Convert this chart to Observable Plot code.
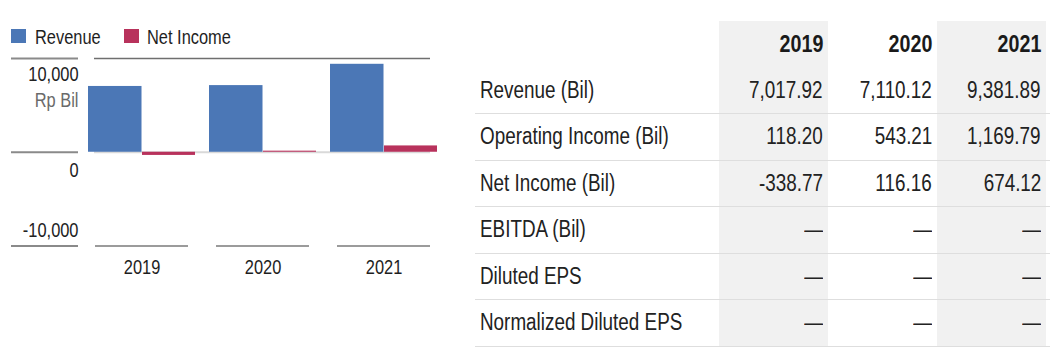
<!DOCTYPE html>
<html>
<head>
<meta charset="utf-8">
<script src="https://cdn.jsdelivr.net/npm/d3@7"></script>
<script src="https://cdn.jsdelivr.net/npm/@observablehq/plot@0.6"></script>
<style>
  html, body { margin: 0; padding: 0; background: #fff; }
  body { width: 1050px; height: 353px; position: relative; overflow: hidden;
         font-family: "Liberation Sans", Arial, sans-serif; color: #1e1e1e; }
  #chart { position: absolute; left: 0; top: 0; }
  #legend { position: absolute; left: 0; top: 27px; width: 300px; height: 20px; font-size: 20px; line-height: 20px; }
  #legend .sw { position: absolute; top: 2px; width: 15px; height: 14px; }
  #legend .txt { position: absolute; top: 0; white-space: nowrap; transform: scaleX(0.82); transform-origin: left center; }
  #table { position: absolute; left: 475px; top: 21px; width: 575px; }
  .row { display: grid; grid-template-columns: 244px 109px 109px 109px 4px; height: 46.5px; }
  .row.body { border-bottom: 1px solid #dedede; box-sizing: border-box; }
  .cell { display: flex; align-items: center; font-size: 23px; color: #222; white-space: nowrap; }
  .cell span { display: inline-block; transform: scaleX(0.82); }
  .cell.num { justify-content: flex-end; padding-right: 5px; }
  .cell.num span { transform-origin: right center; }
  .cell.lab { padding-left: 5px; }
  .cell.lab span { transform-origin: left center; }
  .cell.shade { background: #f1f1f1; }
  .row.head .cell { font-weight: bold; color: #1a1a1a; font-size: 24px; }
</style>
</head>
<body>
<div id="chart"></div>
<div id="legend"></div>
<div id="table"></div>
<script>
// ---- data ----
const years = ["2019", "2020", "2021"];
const seriesNames = ["Revenue", "Net Income"];
const seriesColors = ["#4b77b6", "#b8325c"];
const revenue = [7017.92, 7110.12, 9381.89];
const netIncome = [-338.77, 116.16, 674.12];
const yTicks = [10000, 0, -10000];
const yTickLabels = ["10,000", "0", "-10,000"];
const yUnit = "Rp Bil";

const tableRowLabels = ["Revenue (Bil)", "Operating Income (Bil)", "Net Income (Bil)", "EBITDA (Bil)", "Diluted EPS", "Normalized Diluted EPS"];
const tableRevenue = ["7,017.92", "7,110.12", "9,381.89"];
const tableOperatingIncome = ["118.20", "543.21", "1,169.79"];
const tableNetIncome = ["-338.77", "116.16", "674.12"];
const tableEbitda = ["—", "—", "—"];
const tableDilutedEps = ["—", "—", "—"];
const tableNormalizedEps = ["—", "—", "—"];

// ---- chart ----
const revRows = years.map((y, i) => ({year: y, value: revenue[i]}));
const niRows = years.map((y, i) => ({year: y, value: netIncome[i]}));
const bottomRows = years.map(y => ({year: y, v: yTicks[2]}));

const chart = Plot.plot({
  width: 450,
  height: 290,
  marginTop: 58,
  marginBottom: 44.5,
  marginLeft: 94,
  marginRight: 20,
  style: {fontFamily: '"Liberation Sans", Arial, sans-serif', fontSize: "20px", color: "#1e1e1e", background: "transparent", overflow: "visible"},
  x: {domain: years, paddingInner: 0.2346, paddingOuter: 0, axis: "bottom", tickSize: 0, tickPadding: 14, label: null},
  y: {domain: [yTicks[2], yTicks[0]], axis: null},
  marks: [
    Plot.ruleY([0], {stroke: "#d9d9d9", strokeWidth: 2}),
    Plot.barY(revRows, {x: "year", y: "value", fill: seriesColors[0], insetLeft: -7, insetRight: 46.5}),
    Plot.barY(niRows, {x: "year", y: "value", fill: seriesColors[1], insetLeft: 47, insetRight: -7}),
    Plot.ruleY([yTicks[0]], {stroke: "#6f6f6f", strokeWidth: 1.5}),
    Plot.tickY(bottomRows, {x: "year", y: "v", stroke: "#7a7a7a", strokeWidth: 1.5}),
    Plot.ruleY(yTicks, {stroke: "#8a8a8a", strokeWidth: 2, insetLeft: -83, insetRight: 352}),
    Plot.text([yTicks[0]], {y: d => d, text: () => yTickLabels[0], frameAnchor: "left", textAnchor: "end", dx: -16, dy: 16, fill: "#222"}),
    Plot.text([yTicks[0]], {y: d => d, text: () => yUnit, frameAnchor: "left", textAnchor: "end", dx: -16, dy: 42, fill: "#6a6a6a"}),
    Plot.text([yTicks[1]], {y: d => d, text: () => yTickLabels[1], frameAnchor: "left", textAnchor: "end", dx: -16, dy: 18, fill: "#222"}),
    Plot.text([yTicks[2]], {y: d => d, text: () => yTickLabels[2], frameAnchor: "left", textAnchor: "end", dx: -16, dy: -15, fill: "#222"})
  ]
});
document.getElementById("chart").appendChild(chart);
// condensed look: compress each label's glyphs horizontally (keeps Plot's own positioning)
chart.querySelectorAll("text").forEach(t => {
  const len = t.getComputedTextLength();
  if (len > 0) {
    t.setAttribute("textLength", (len * 0.82).toFixed(2));
    t.setAttribute("lengthAdjust", "spacingAndGlyphs");
  }
});

// ---- legend ----
const legend = document.getElementById("legend");
const legendSwatchX = [11, 124];
const legendTextX = [35, 147];
seriesNames.forEach((name, i) => {
  const sw = document.createElement("span");
  sw.className = "sw";
  sw.style.left = legendSwatchX[i] + "px";
  sw.style.background = seriesColors[i];
  legend.appendChild(sw);
  const tx = document.createElement("span");
  tx.className = "txt";
  tx.style.left = legendTextX[i] + "px";
  tx.textContent = name;
  legend.appendChild(tx);
});

// ---- table ----
const table = document.getElementById("table");
const bodyValues = [tableRevenue, tableOperatingIncome, tableNetIncome, tableEbitda, tableDilutedEps, tableNormalizedEps];
function makeRow(label, vals, cls) {
  const r = document.createElement("div");
  r.className = "row " + cls;
  let html = `<div class="cell lab"><span>${label}</span></div>`;
  vals.forEach((v, i) => {
    html += `<div class="cell num${i % 2 === 0 ? " shade" : ""}"><span>${v}</span></div>`;
  });
  html += `<div class="cell"></div>`;
  r.innerHTML = html;
  table.appendChild(r);
}
makeRow("", years, "head");
tableRowLabels.forEach((lab, i) => makeRow(lab, bodyValues[i], "body"));
</script>
</body>
</html>
